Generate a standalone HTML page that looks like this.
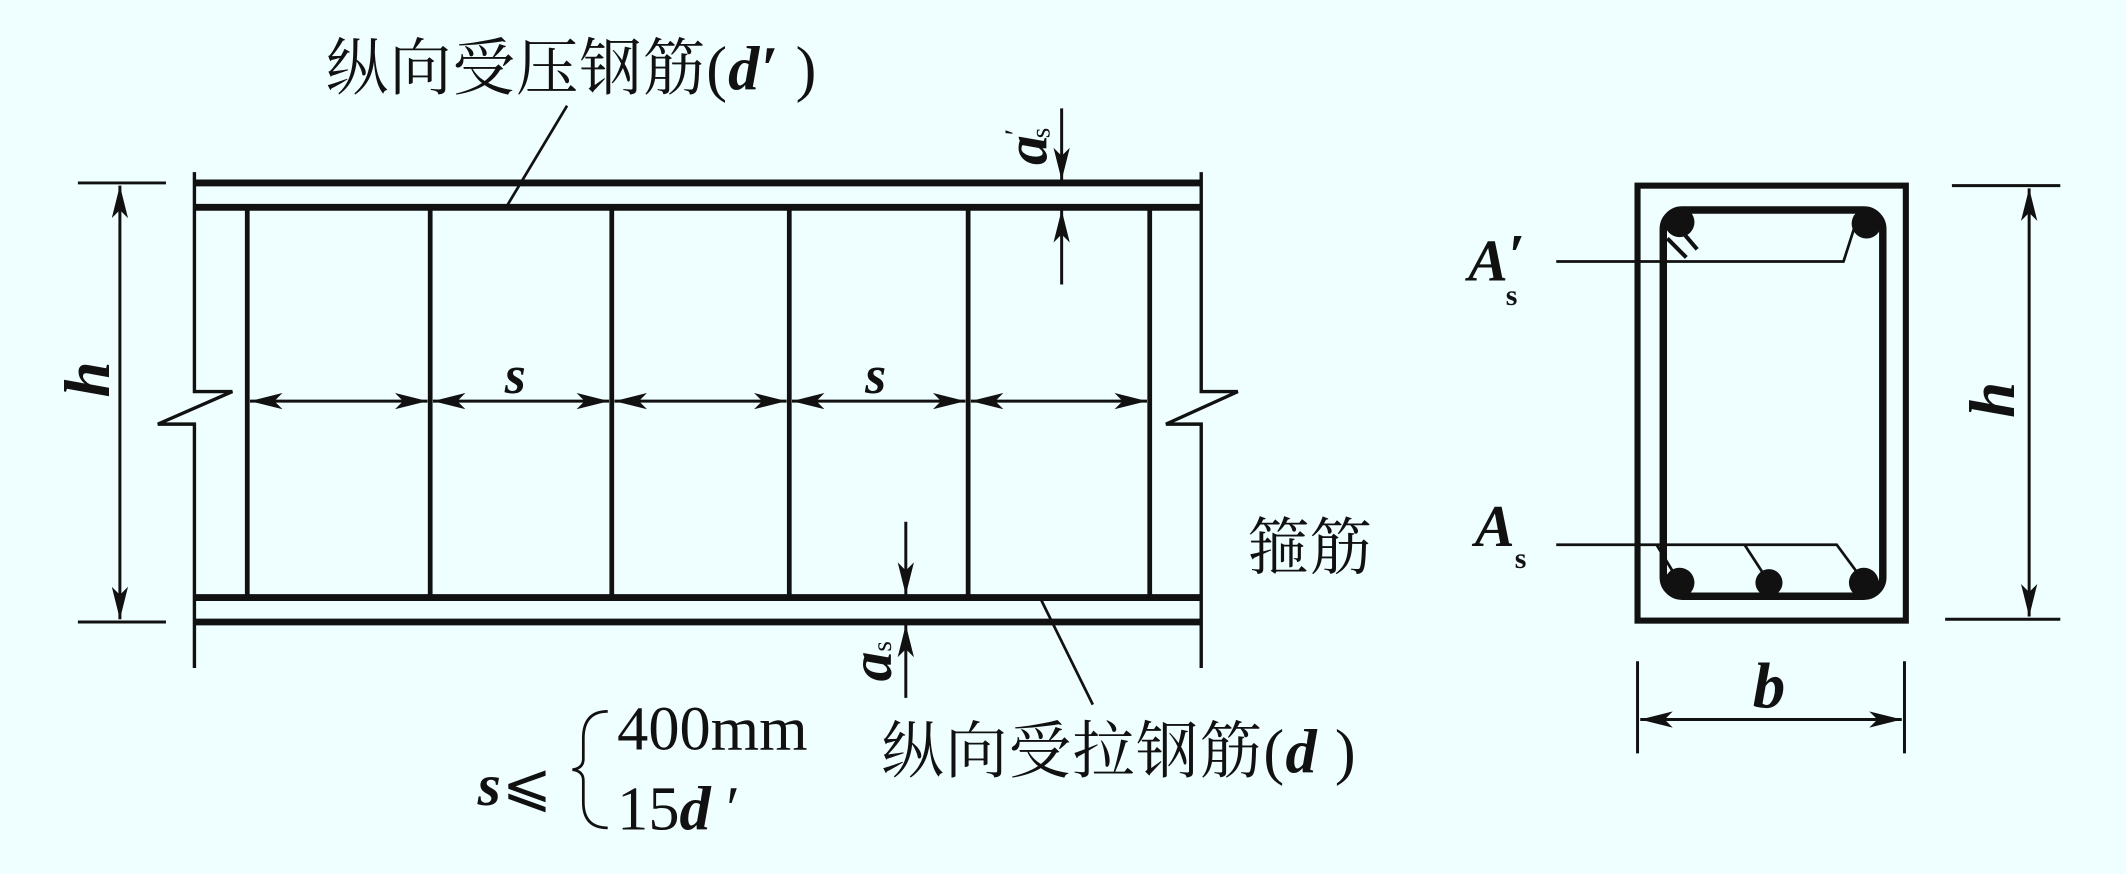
<!DOCTYPE html>
<html><head><meta charset="utf-8"><style>
html,body{margin:0;padding:0;background:#effefe;}
svg{display:block}
.cn{font-family:"Liberation Serif","Noto Serif CJK SC",serif;font-size:46px;fill:#111}
.it{font-family:"Liberation Serif",serif;font-style:italic;font-weight:bold;fill:#111}
.rm{font-family:"Liberation Serif",serif;fill:#111}
</style></head><body>
<svg width="2126" height="874" viewBox="0 0 1568 645" xmlns="http://www.w3.org/2000/svg">
<defs>
<marker id="ar" viewBox="0 0 24 12" refX="24" refY="6" markerWidth="24" markerHeight="12" markerUnits="userSpaceOnUse" orient="auto-start-reverse"><path d="M0,0 L24,6 L0,12 L6,6 Z" fill="#111"/></marker>
</defs>
<rect width="1568" height="645" fill="#effefe"/>
<g stroke="#111" fill="none">
<path d="M143,127 V289 H171 L116,313 H143 V493" stroke-width="2.5"/>
<path d="M886,127 V289 H913 L860,313 H886 V493" stroke-width="2.5"/>
<line x1="143" y1="135" x2="886" y2="135" stroke-width="5"/>
<line x1="143" y1="153" x2="886" y2="153" stroke-width="5"/>
<line x1="143" y1="441" x2="886" y2="441" stroke-width="5"/>
<line x1="143" y1="459" x2="886" y2="459" stroke-width="5"/>
<g stroke-width="3.5">
<line x1="182" y1="153" x2="182" y2="441"/><line x1="317" y1="153" x2="317" y2="441"/>
<line x1="451" y1="153" x2="451" y2="441"/><line x1="582" y1="153" x2="582" y2="441"/>
<line x1="714" y1="153" x2="714" y2="441"/><line x1="848" y1="153" x2="848" y2="441"/>
</g>
<g stroke-width="2.2">
<line x1="184" y1="296" x2="315" y2="296" marker-start="url(#ar)" marker-end="url(#ar)"/>
<line x1="319" y1="296" x2="449" y2="296" marker-start="url(#ar)" marker-end="url(#ar)"/>
<line x1="453" y1="296" x2="580" y2="296" marker-start="url(#ar)" marker-end="url(#ar)"/>
<line x1="584" y1="296" x2="712" y2="296" marker-start="url(#ar)" marker-end="url(#ar)"/>
<line x1="716" y1="296" x2="846" y2="296" marker-start="url(#ar)" marker-end="url(#ar)"/>
</g>
<g stroke-width="2.2">
<line x1="57" y1="135" x2="122" y2="135"/><line x1="57" y1="459" x2="122" y2="459"/>
<line x1="88" y1="137" x2="88" y2="457" marker-start="url(#ar)" marker-end="url(#ar)"/>
</g>
<g stroke-width="2.2">
<line x1="783" y1="80" x2="783" y2="133" marker-end="url(#ar)"/>
<line x1="783" y1="210" x2="783" y2="155" marker-end="url(#ar)"/>
<line x1="668" y1="385" x2="668" y2="439" marker-end="url(#ar)"/>
<line x1="668" y1="515" x2="668" y2="461" marker-end="url(#ar)"/>
</g>
<line x1="418" y1="78" x2="373" y2="153" stroke-width="2"/>
<line x1="768" y1="443" x2="806" y2="520" stroke-width="2"/>
</g>
<text class="cn" x="240" y="66" textLength="362">纵向受压钢筋(<tspan class="it">d′</tspan> )</text>
<text class="cn" x="650" y="570" textLength="350">纵向受拉钢筋(<tspan class="it">d</tspan> )</text>
<text class="cn" x="920" y="420">箍筋</text>
<text class="it" font-size="40" x="372" y="290">s</text>
<text class="it" font-size="40" x="638" y="290">s</text>
<text class="it" font-size="48" transform="translate(80,280) rotate(-90)" text-anchor="middle">h</text>
<text class="it" font-size="44" transform="translate(772,108) rotate(-90)" text-anchor="middle">a<tspan font-size="22" font-weight="normal" font-style="normal" dy="-16">′</tspan><tspan font-size="20" font-weight="normal" font-style="normal" dx="-7" dy="18">s</tspan></text>
<text class="it" font-size="44" transform="translate(657,488) rotate(-90)" text-anchor="middle">a<tspan font-size="20" font-weight="normal" font-style="normal">s</tspan></text>
<g>
<text class="it" font-size="44" x="352" y="594" font-weight="normal">s</text>
<text class="rm" font-size="44" x="370" y="594">⩽</text>
<path d="M448,525 Q430,525 430,545 V560 Q430,567 422,568 Q430,569 430,576 V592 Q430,611 448,611" stroke="#111" stroke-width="2" fill="none"/>
<text class="rm" font-size="46" x="455" y="553">400mm</text>
<text class="rm" font-size="46" x="455" y="612">15<tspan class="it">d</tspan> ′</text>
</g>
<g stroke="#111" fill="none">
<rect x="1208" y="137" width="198" height="321" stroke-width="4.5"/>
<rect x="1227" y="155" width="162" height="285" rx="14" stroke-width="5.5"/>
<g fill="#111" stroke="none">
<circle cx="1239" cy="164" r="11"/><circle cx="1377" cy="165" r="11"/>
<circle cx="1239" cy="430" r="11"/><circle cx="1305" cy="430" r="10"/><circle cx="1375" cy="430" r="11"/>
</g>
<path d="M1240,170 L1252,184 M1230,176 L1244,190" stroke-width="3"/>
<path d="M1148,193 H1360 L1368,168" stroke-width="2"/>
<path d="M1148,402 H1355 L1372,425 M1287,402 L1300,422 M1222,402 L1236,425" stroke-width="2"/>
<g stroke-width="2.2">
<line x1="1440" y1="137" x2="1520" y2="137"/><line x1="1435" y1="457" x2="1520" y2="457"/>
<line x1="1497" y1="139" x2="1497" y2="455" marker-start="url(#ar)" marker-end="url(#ar)"/>
</g>
<g stroke-width="2.2">
<line x1="1208" y1="488" x2="1208" y2="556"/><line x1="1405" y1="488" x2="1405" y2="556"/>
<line x1="1210" y1="531" x2="1403" y2="531" marker-start="url(#ar)" marker-end="url(#ar)"/>
</g>
</g>
<text class="it" font-size="44" font-weight="normal" x="1083" y="207">A<tspan dy="-4">′</tspan><tspan font-size="22" font-style="normal" dx="-14" dy="22">s</tspan></text>
<text class="it" font-size="44" font-weight="normal" x="1088" y="403">A<tspan font-size="22" font-style="normal" dy="16">s</tspan></text>
<text class="it" font-size="48" transform="translate(1486,295) rotate(-90)" text-anchor="middle">h</text>
<text class="it" font-size="48" x="1305" y="522" text-anchor="middle">b</text>
</svg>
</body></html>
